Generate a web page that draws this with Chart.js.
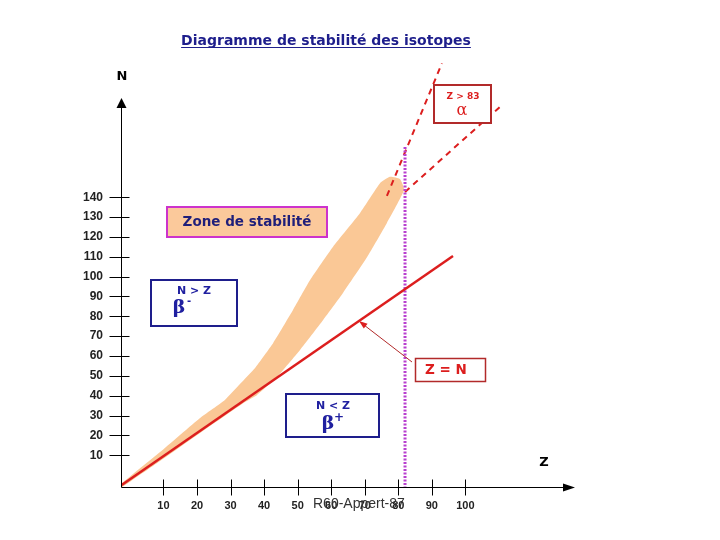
<!DOCTYPE html>
<html><head><meta charset="utf-8">
<script src="https://cdn.jsdelivr.net/npm/chart.js@4.4.1/dist/chart.umd.min.js"></script>
<style>html,body{margin:0;padding:0;background:#fff}</style>
</head><body>
<canvas id="c" width="720" height="540"></canvas>
<script>
// ---- data (Z = protons on x, N = neutrons on y) ----
const zTicks = [10, 20, 30, 40, 50, 60, 70, 80, 90, 100];
const nTicks = [10, 20, 30, 40, 50, 60, 70, 80, 90, 100, 110, 120, 130, 140];

// outline of the stability zone (upper edge going up, then lower edge coming back)
const bandZ = [-2.7, 9.0, 20.9, 28.3, 32.8, 37.3, 42.7, 48.6, 53.7, 60.5, 68.6, 74.6, 77.5, 80.5, 81.7,
               76.6, 70.7, 63.5, 57.6, 50.7, 43.8, 37.9, 34.3, 20.9, 9.0, -2.7];
const bandN = [-4.5, 11.6, 28.8, 37.9, 45.9, 54.0, 66.6, 83.2, 98.3, 115.0, 132.1, 147.2, 150.3, 149.2, 143.7,
               127.1, 109.9, 91.8, 78.2, 63.1, 49.4, 40.4, 36.8, 21.2, 7.1, -6.5];

const zEqN_Z = [-2.45, 96.3];
const zEqN_N = [-5.0, 110.4];

const alphaUpperZ = [76.6, 93.0];
const alphaUpperN = [140.7, 207.5];
const alphaLowerZ = [82.0, 110.9];
const alphaLowerN = [142.7, 186.5];

const limitZ = [82, 82];
const limitN = [165.4, -6];

const pts = (zs, ns) => zs.map((z, i) => ({x: z, y: ns[i]}));

// ---- annotation layout (pixels) ----
const NAVY = '#1e1e8c';
const RED = '#dc1e1e';
const DARKRED = '#b22a2a';

const deco = {
  id: 'deco',
  afterDraw(chart) {
    const ctx = chart.ctx, xs = chart.scales.x, ys = chart.scales.y;
    const x0 = Math.round(xs.left) + 0.5, y0 = Math.round(ys.bottom) + 0.5;
    ctx.save();
    ctx.strokeStyle = '#000'; ctx.fillStyle = '#000'; ctx.lineWidth = 1;
    // y axis with arrow
    ctx.beginPath(); ctx.moveTo(x0, y0); ctx.lineTo(x0, 106); ctx.stroke();
    ctx.beginPath(); ctx.moveTo(x0, 98); ctx.lineTo(x0 - 5, 108); ctx.lineTo(x0 + 5, 108); ctx.closePath(); ctx.fill();
    // x axis with arrow
    ctx.beginPath(); ctx.moveTo(x0, y0); ctx.lineTo(566, y0); ctx.stroke();
    ctx.beginPath(); ctx.moveTo(575, y0); ctx.lineTo(563, y0 - 4); ctx.lineTo(563, y0 + 4); ctx.closePath(); ctx.fill();
    // tick marks crossing the axes
    nTicks.forEach(v => {
      const p = Math.round(ys.getPixelForValue(v)) + 0.5;
      ctx.beginPath(); ctx.moveTo(x0 - 12, p); ctx.lineTo(x0 + 8, p); ctx.stroke();
    });
    zTicks.forEach(v => {
      const p = Math.round(xs.getPixelForValue(v)) + 0.5;
      ctx.beginPath(); ctx.moveTo(p, y0 - 8); ctx.lineTo(p, y0 + 8); ctx.stroke();
    });
    // axis names
    ctx.font = 'bold 13px "DejaVu Sans"'; ctx.textAlign = 'center'; ctx.textBaseline = 'middle';
    ctx.fillText('N', 122, 77);
    ctx.fillText('Z', 544, 463);

    // title, underlined
    ctx.font = 'bold 14px "DejaVu Sans"'; ctx.fillStyle = NAVY; ctx.textBaseline = 'alphabetic';
    const title = 'Diagramme de stabilité des isotopes';
    ctx.fillText(title, 326, 45);
    const tw = ctx.measureText(title).width;
    ctx.strokeStyle = NAVY; ctx.beginPath(); ctx.moveTo(326 - tw / 2, 47.5); ctx.lineTo(326 + tw / 2, 47.5); ctx.stroke();

    const box = (x, y, w, h, fill, stroke, lw) => {
      ctx.fillStyle = fill; ctx.fillRect(x, y, w, h);
      ctx.strokeStyle = stroke; ctx.lineWidth = lw; ctx.strokeRect(x, y, w, h);
    };
    ctx.textBaseline = 'middle';
    // Zone de stabilité
    box(167, 207, 160, 30, '#fbc99b', '#cc33cc', 2);
    ctx.fillStyle = '#1f1f7a'; ctx.font = 'bold 13.5px "DejaVu Sans"';
    ctx.fillText('Zone de stabilité', 247, 222);
    // N > Z  beta-
    box(151, 280, 86, 46, '#fff', NAVY, 2);
    ctx.fillStyle = '#2020a0'; ctx.font = 'bold 11px "DejaVu Sans"';
    ctx.fillText('N > Z', 194, 291);
    ctx.font = 'bold 19px "DejaVu Serif"'; ctx.fillText('β', 179, 308);
    ctx.font = 'bold 10px "DejaVu Sans"'; ctx.fillText('-', 189, 301);
    // N < Z  beta+
    box(286, 394, 93, 43, '#fff', NAVY, 2);
    ctx.fillStyle = '#2020a0'; ctx.font = 'bold 11px "DejaVu Sans"';
    ctx.fillText('N < Z', 333, 406);
    ctx.font = 'bold 19px "DejaVu Serif"'; ctx.fillText('β', 328, 424);
    ctx.font = 'bold 12px "DejaVu Sans"'; ctx.fillText('+', 339, 418);
    // Z = N
    box(415.5, 358.5, 70, 23, '#fff', DARKRED, 1.5);
    ctx.fillStyle = RED; ctx.font = 'bold 13.5px "DejaVu Sans"';
    ctx.fillText('Z = N', 446, 370);
    // thin pointer towards the Z = N line
    ctx.strokeStyle = DARKRED; ctx.lineWidth = 1;
    ctx.beginPath(); ctx.moveTo(412, 362); ctx.lineTo(364, 325); ctx.stroke();
    ctx.fillStyle = RED;
    const ang = Math.atan2(325 - 362, 364 - 412);
    ctx.beginPath(); ctx.moveTo(359, 321);
    ctx.lineTo(359 - 9 * Math.cos(ang - 0.35), 321 - 9 * Math.sin(ang - 0.35));
    ctx.lineTo(359 - 9 * Math.cos(ang + 0.35), 321 - 9 * Math.sin(ang + 0.35));
    ctx.closePath(); ctx.fill();
    // Z > 83  alpha
    box(434, 85, 57, 38, '#fff', DARKRED, 2);
    ctx.fillStyle = RED; ctx.font = 'bold 9px "DejaVu Sans"';
    ctx.fillText('Z > 83', 463, 97);
    ctx.font = '16px "DejaVu Serif"'; ctx.fillText('α', 462, 111);

    // watermark over the axis labels
    ctx.fillStyle = '#333'; ctx.font = '14px "Liberation Sans"'; ctx.textAlign = 'left';
    ctx.fillText('R60-Appert-87', 313, 504);
    ctx.restore();
  }
};

new Chart(document.getElementById('c'), {
  type: 'scatter',
  data: {
    datasets: [
      { label: 'Z = N', data: pts(zEqN_Z, zEqN_N), showLine: true, borderColor: RED, borderWidth: 2.5,
        pointRadius: 0, order: 1 },
      { label: 'Z = 83', data: pts(limitZ, limitN), showLine: true, borderColor: '#b840d0', borderWidth: 3,
        borderDash: [2, 1.5], pointRadius: 0, order: 2 },
      { label: 'alpha1', data: pts(alphaUpperZ, alphaUpperN), showLine: true, borderColor: RED, borderWidth: 2,
        borderDash: [6, 5], pointRadius: 0, order: 3 },
      { label: 'alpha2', data: pts(alphaLowerZ, alphaLowerN), showLine: true, borderColor: RED, borderWidth: 2,
        borderDash: [6, 5], pointRadius: 0, order: 3 },
      { label: 'Zone de stabilité', data: pts(bandZ, bandN), showLine: true, fill: 'shape', tension: 0.15,
        backgroundColor: '#fac896', borderColor: 'rgba(0,0,0,0)', borderWidth: 1, pointRadius: 0, order: 5 }
    ]
  },
  options: {
    responsive: false, animation: false, devicePixelRatio: 1,
    layout: { padding: { left: 0, top: 55, right: 147, bottom: 0 } },
    plugins: { legend: { display: false }, tooltip: { enabled: false } },
    scales: {
      x: {
        type: 'linear', min: -2.66, max: 132.07,
        grid: { display: false, drawTicks: false }, border: { display: false },
        ticks: { font: { family: 'Liberation Sans', weight: 'bold', size: 11 }, color: '#222', padding: 12,
                 maxRotation: 0, autoSkip: false },
        afterBuildTicks: s => { s.ticks = zTicks.map(v => ({ value: v })); },
        afterFit: s => { s.height = 53; }
      },
      y: {
        type: 'linear', min: -6.0, max: 211.7,
        grid: { display: false, drawTicks: false }, border: { display: false },
        ticks: { font: { family: 'Liberation Sans', weight: 'bold', size: 12 }, color: '#222', padding: 18,
                 autoSkip: false },
        afterBuildTicks: s => { s.ticks = nTicks.map(v => ({ value: v })); },
        afterFit: s => { s.width = 121; }
      }
    }
  },
  plugins: [deco]
});
</script>
</body></html>
